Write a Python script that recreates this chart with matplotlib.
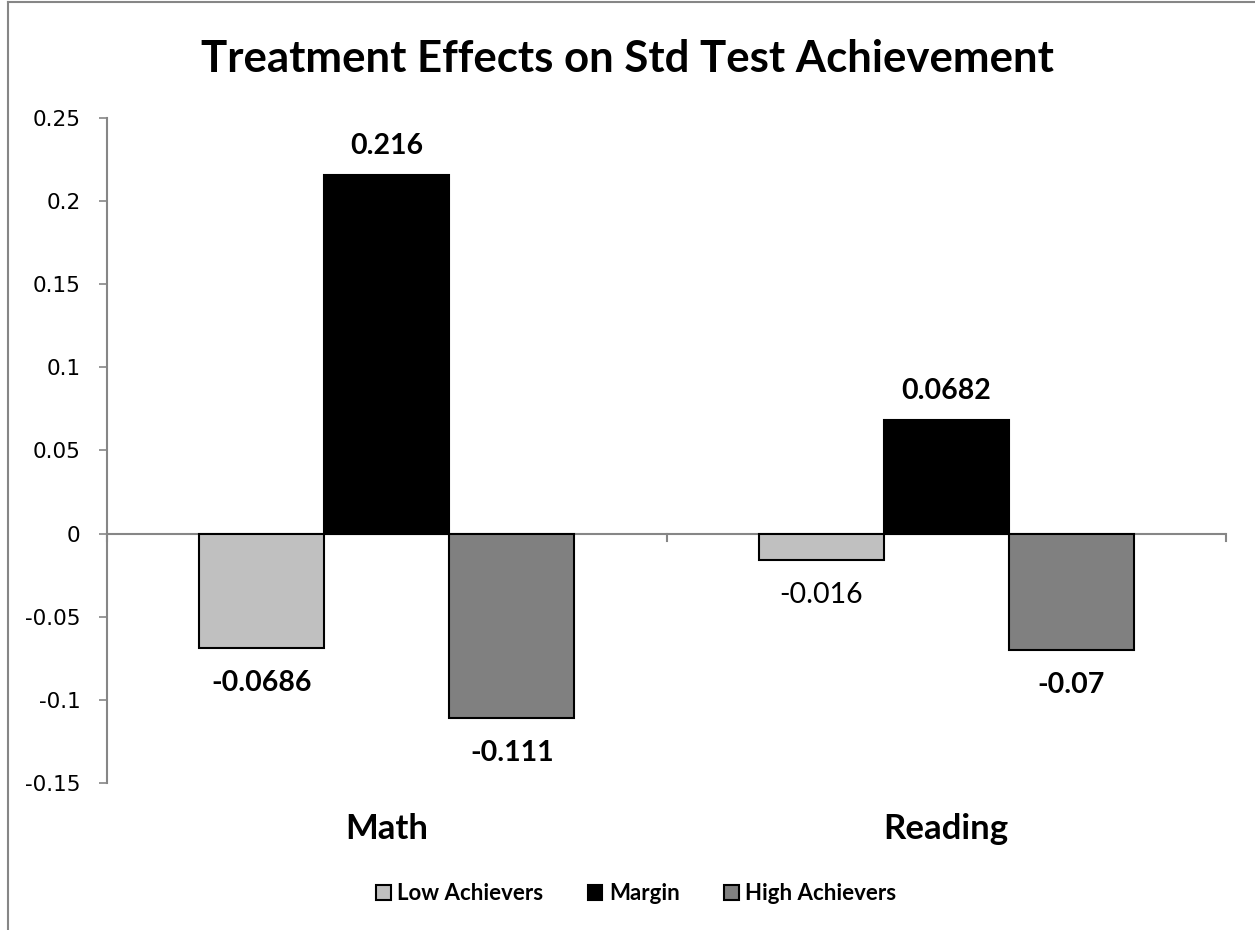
import matplotlib
matplotlib.use('Agg')
import matplotlib.pyplot as plt
import numpy as np
from matplotlib.lines import Line2D

# Data
categories = ['Math', 'Reading']
series_names = ['Low Achievers', 'Margin', 'High Achievers']
low_achievers = [-0.0686, -0.016]
margin = [0.216, 0.0682]
high_achievers = [-0.111, -0.07]

colors = ['#c0c0c0', '#000000', '#808080']
yticks = [-0.15, -0.1, -0.05, 0, 0.05, 0.1, 0.15, 0.2, 0.25]
ytick_labels = ['-0.15', '-0.1', '-0.05', '0', '0.05', '0.1', '0.15', '0.2', '0.25']

main_font = 'Lato'
axis_grey = '#868686'

fig = plt.figure(figsize=(12.55, 9.3), dpi=100)
ax = fig.add_axes([0.0853, 0.1581, 0.8916, 0.7150])

x = np.arange(len(categories))
width = 0.2236
all_series = [low_achievers, margin, high_achievers]
# the reading / low achievers label is the only one not in bold
label_bold = [[True, False], [True, True], [True, True]]

for i, (vals, name, col) in enumerate(zip(all_series, series_names, colors)):
    pos = x + (i - 1) * width
    ax.bar(pos, vals, width, color=col, edgecolor='black', linewidth=1.5,
           label=name, zorder=2)
    for p, v, b in zip(pos, vals, label_bold[i]):
        off = 15 if v >= 0 else -31
        ax.annotate(f'{v:g}', (p, v), xytext=(0, off), textcoords='offset points',
                    ha='center', va='baseline', fontsize=20.5,
                    fontweight='bold' if b else 'normal', family=main_font)

ax.set_xlim(-0.5, 1.5)
ax.set_ylim(-0.15, 0.25)
ax.set_yticks(yticks)
ax.set_yticklabels(ytick_labels, fontsize=15.5, family='DejaVu Sans')
ax.tick_params(axis='y', length=6, width=1.2, color=axis_grey, pad=13)

# category labels below plot area
ax.set_xticks([])
for xi, cat in zip(x, categories):
    ax.annotate(cat, (xi, 0), xycoords=('data', 'axes fraction'),
                xytext=(0, -40), textcoords='offset points',
                ha='center', va='baseline', fontsize=25,
                fontweight='bold', family=main_font)

for s in ['top', 'right', 'bottom']:
    ax.spines[s].set_visible(False)
ax.spines['left'].set_color(axis_grey)
ax.spines['left'].set_linewidth(1.5)

# horizontal axis line at zero with category separator ticks
ax.axhline(0, color=axis_grey, linewidth=1.5, zorder=1)
for xb in [-0.5, 0.5, 1.5]:
    ax.plot([xb, xb], [0, -0.0045], color=axis_grey, linewidth=1.5,
            clip_on=False, zorder=1)

fig.text(0.5, 1 - 72 / 930, 'Treatment Effects on Std Test Achievement',
         ha='center', va='baseline', fontsize=31.5, fontweight='bold',
         family=main_font)

leg = fig.legend(loc='center', bbox_to_anchor=(0.507, 0.039), ncol=3, frameon=False,
                 prop={'family': main_font, 'weight': 'bold', 'size': 16},
                 handlelength=0.65, handleheight=0.65, handletextpad=0.3,
                 columnspacing=2.0)

# chart frame (top and left border)
fig.add_artist(Line2D([8 / 1255, 8 / 1255], [0, 1 - 2 / 930], color=axis_grey,
                      linewidth=1.5, transform=fig.transFigure))
fig.add_artist(Line2D([8 / 1255, 1], [1 - 2 / 930, 1 - 2 / 930], color=axis_grey,
                      linewidth=1.5, transform=fig.transFigure))

fig.savefig('out.png', dpi=100)
